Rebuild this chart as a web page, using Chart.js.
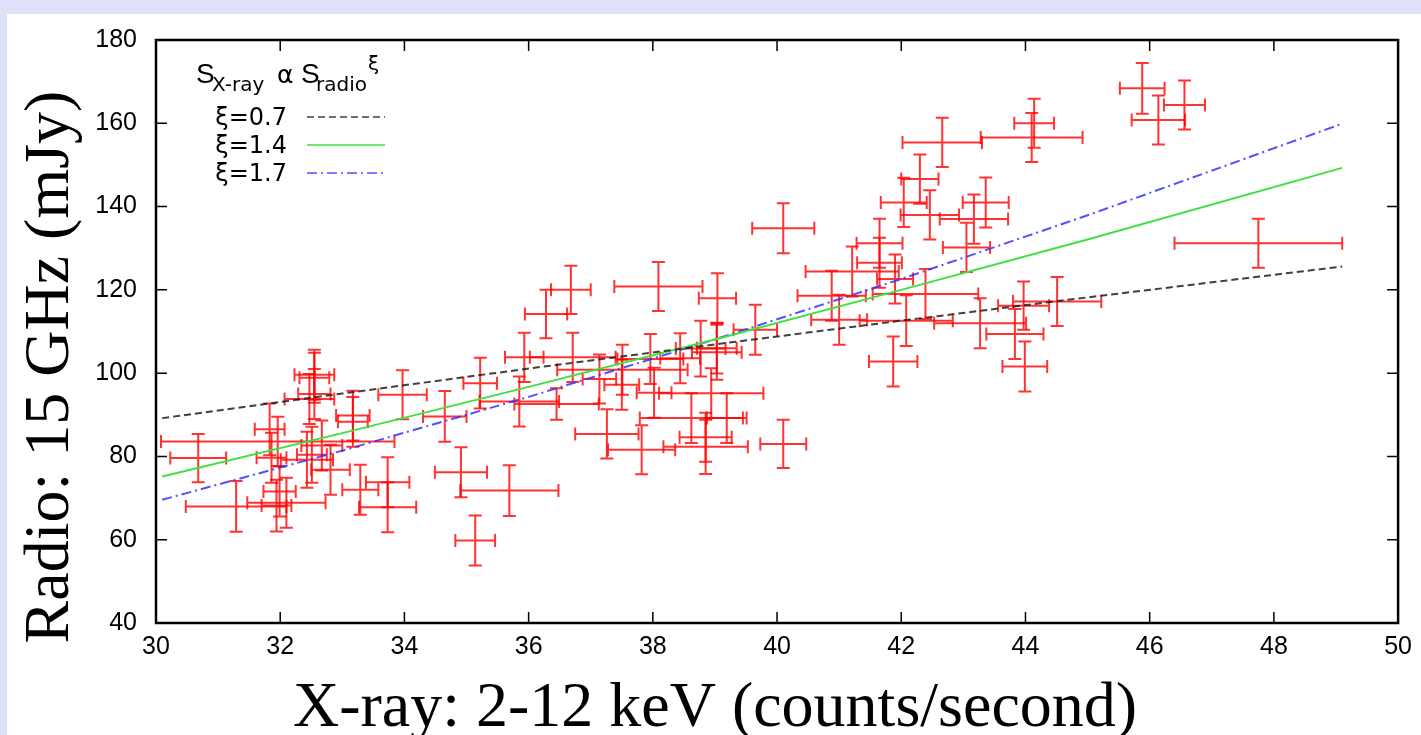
<!DOCTYPE html>
<html lang="en">
<head>
<meta charset="UTF-8">
<title>Radio vs X-ray flux</title>
<script src="https://cdn.jsdelivr.net/npm/chart.js"></script>
<style>
    html, body { margin: 0; padding: 0; background: #dfe0f9; }
    #wrap { width: 1421px; height: 735px; }
</style>
</head>
<body>
<div id="wrap"><canvas id="chart" width="1421" height="735"></canvas></div>
<script>
// observed points (x-ray count rate, 15 GHz flux) with their errors
const obsX = [45.88, 46.56, 46.14, 47.75, 44.14, 44.10, 42.66, 42.30, 42.04, 42.46,
              43.36, 43.17, 43.05, 41.65, 41.65, 41.90, 41.21, 40.88, 41.00, 42.39,
              42.08, 43.27, 43.97, 44.51, 43.83, 43.99, 41.87, 40.10, 40.10, 38.09,
              39.04, 39.65, 36.68, 36.28, 35.93, 36.71, 35.22, 34.91, 35.69, 35.14,
              37.26, 37.82, 34.65, 35.85, 36.45, 37.14, 37.51, 37.50, 37.96, 38.44,
              38.77, 39.03, 39.03, 38.94, 38.02, 38.62, 39.19, 38.85, 38.85,
              30.68, 31.96, 31.29, 31.83, 31.86, 31.99, 32.10, 31.94, 32.55, 32.55,
              32.55, 32.47, 32.67, 32.43, 32.81, 32.51, 33.17, 33.17, 33.97, 33.29,
              33.73, 33.73];
const obsY = [168.4, 164.4, 160.8, 131.2, 160.0, 156.6, 155.4, 146.6, 141.0, 138.0,
              141.0, 137.0, 130.2, 131.2, 126.5, 122.6, 124.4, 118.6, 112.8, 119.0,
              112.6, 112.0, 116.2, 117.2, 109.4, 101.6, 102.8, 134.8, 83.0, 120.8,
              118.0, 110.4, 120.0, 114.2, 103.8, 103.8, 97.6, 76.2, 71.8, 59.8,
              85.4, 81.6, 89.6, 93.2, 92.6, 98.6, 100.8, 97.2, 103.4, 103.6,
              105.9, 106.0, 105.0, 95.2, 95.3, 89.2, 89.2, 84.6, 82.3,
              79.6, 83.6, 68.0, 86.5, 79.7, 71.6, 68.9, 68.2, 99.6, 98.9,
              95.0, 93.8, 82.6, 79.2, 76.8, 80.4, 89.8, 88.3, 94.8, 72.0,
              73.8, 67.8];
const errX = [0.36, 0.33, 0.43, 1.35, 0.32, 0.82, 0.64, 0.30, 0.37, 0.47,
              0.37, 0.55, 0.38, 0.37, 0.36, 0.29, 0.75, 0.55, 0.45, 0.85,
              0.75, 0.74, 0.41, 0.71, 0.46, 0.36, 0.39, 0.50, 0.37, 0.71,
              0.30, 0.35, 0.32, 0.34, 0.31, 0.69, 0.27, 0.42, 0.79, 0.32,
              0.51, 0.54, 0.35, 0.64, 0.68, 0.27, 1.05, 0.28, 0.53, 0.32,
              0.40, 0.32, 0.40, 0.84, 0.28, 0.83, 0.32, 0.42, 0.68,
              0.45, 1.88, 0.81, 0.24, 0.24, 0.26, 0.63, 0.24, 0.32, 0.24,
              0.26, 0.40, 0.33, 0.42, 0.31, 0.24, 0.27, 0.24, 0.39, 0.29,
              0.35, 0.46];
const errY = [6.1, 5.9, 5.9, 5.9, 5.9, 5.9, 5.9, 5.9, 5.9, 5.9,
              6.0, 5.9, 5.9, 5.9, 6.0, 5.9, 6.0, 6.0, 6.0, 6.0,
              6.1, 6.0, 5.8, 5.9, 6.0, 6.0, 6.0, 6.0, 5.8, 5.9,
              6.0, 6.0, 5.8, 5.8, 5.9, 5.9, 6.1, 6.0, 6.1, 6.0,
              5.9, 5.9, 6.1, 6.0, 3.8, 5.9, 6.0, 6.0, 6.0, 6.0,
              6.7, 6.1, 6.6, 6.0, 6.0, 6.0, 6.0, 5.9, 6.5,
              5.8, 5.9, 6.1, 6.2, 6.0, 6.0, 6.0, 6.2, 6.0, 6.0,
              6.0, 6.0, 6.0, 6.7, 6.0, 6.7, 6.0, 6.0, 5.9, 6.0,
              6.0, 6.0];

// power-law curves
const fitX    = [30.1, 33, 36, 39, 42, 45, 49.1];
const fitXi07 = [89.2, 95.1, 101.1, 106.9, 112.6, 118.2, 125.6];
const fitXi14 = [75.2, 85.6, 96.7, 108.1, 120.0, 132.1, 149.3];
const fitXi17 = [69.6, 81.4, 94.3, 108.1, 122.6, 137.9, 159.9];

const xTitle = 'X-ray: 2-12 keV (counts/second)';
const yTitle = 'Radio: 15 GHz (mJy)';

const pts = (xs, ys) => xs.map((v, i) => ({x: v, y: ys[i]}));

// lavender frame behind the white page
const background = {
    id: 'background',
    beforeDraw(chart) {
        const ctx = chart.ctx;
        ctx.save();
        ctx.fillStyle = '#dfe0f9';
        ctx.fillRect(0, 0, chart.width, chart.height);
        ctx.fillStyle = '#ffffff';
        ctx.fillRect(7, 14, chart.width - 7, chart.height - 14);
        ctx.restore();
    }
};

// crosses with end caps for each measurement
const errorBars = {
    id: 'errorBars',
    beforeDatasetsDraw(chart) {
        const {ctx, scales: {x, y}} = chart;
        const cap = 6.5;
        ctx.save();
        ctx.strokeStyle = 'rgba(255,0,0,0.8)';
        ctx.lineWidth = 2;
        obsX.forEach((v, i) => {
            const px = x.getPixelForValue(v), py = y.getPixelForValue(obsY[i]);
            const x0 = x.getPixelForValue(v - errX[i]), x1 = x.getPixelForValue(v + errX[i]);
            const y0 = y.getPixelForValue(obsY[i] - errY[i]), y1 = y.getPixelForValue(obsY[i] + errY[i]);
            ctx.beginPath();
            ctx.moveTo(x0, py); ctx.lineTo(x1, py);
            ctx.moveTo(x0, py - cap); ctx.lineTo(x0, py + cap);
            ctx.moveTo(x1, py - cap); ctx.lineTo(x1, py + cap);
            ctx.moveTo(px, y0); ctx.lineTo(px, y1);
            ctx.moveTo(px - cap, y0); ctx.lineTo(px + cap, y0);
            ctx.moveTo(px - cap, y1); ctx.lineTo(px + cap, y1);
            ctx.stroke();
        });
        ctx.restore();
    }
};

// gnuplot style box, inward ticks on all sides, key and axis titles
const frame = {
    id: 'frame',
    afterDraw(chart) {
        const {ctx, chartArea: a, scales: {x, y}} = chart;
        const tl = 11;
        ctx.save();
        ctx.strokeStyle = '#000';
        ctx.lineWidth = 1.5;
        ctx.beginPath();
        x.ticks.forEach(t => {
            const p = x.getPixelForValue(t.value);
            ctx.moveTo(p, a.bottom); ctx.lineTo(p, a.bottom - tl);
            ctx.moveTo(p, a.top); ctx.lineTo(p, a.top + tl);
        });
        y.ticks.forEach(t => {
            const p = y.getPixelForValue(t.value);
            ctx.moveTo(a.left, p); ctx.lineTo(a.left + tl, p);
            ctx.moveTo(a.right, p); ctx.lineTo(a.right - tl, p);
        });
        ctx.stroke();
        ctx.lineWidth = 2.5;
        ctx.strokeRect(a.left, a.top, a.right - a.left, a.bottom - a.top);

        // key
        ctx.fillStyle = '#000';
        ctx.textBaseline = 'alphabetic';
        ctx.textAlign = 'left';
        ctx.font = '28px "Liberation Sans"';
        ctx.fillText('S', 196, 83);
        ctx.fillText('S', 301, 83);
        ctx.font = '25px "DejaVu Sans"';
        ctx.fillText('\u03b1', 277, 83);
        ctx.font = '20px "DejaVu Sans"';
        ctx.fillText('X-ray', 212, 91);
        ctx.fillText('radio', 316, 91);
        ctx.fillText('\u03be', 368, 70);

        ctx.font = '24px "DejaVu Sans"';
        ctx.textAlign = 'right';
        chart.data.datasets.slice(1).forEach((ds, i) => {
            const base = 125 + i * 28;
            ctx.fillStyle = '#000';
            ctx.fillText(ds.label, 287, base);
            ctx.strokeStyle = ds.borderColor;
            ctx.lineWidth = 1.5;
            ctx.setLineDash(ds.borderDash || []);
            ctx.beginPath();
            ctx.moveTo(307, base - 8);
            ctx.lineTo(385, base - 8);
            ctx.stroke();
            ctx.setLineDash([]);
        });

        // axis titles
        ctx.fillStyle = '#000';
        ctx.font = '64px "Liberation Serif"';
        ctx.textAlign = 'center';
        ctx.fillText(xTitle, 715, 726);
        ctx.translate(68, 367);
        ctx.rotate(-Math.PI / 2);
        ctx.fillText(yTitle, 0, 0);
        ctx.restore();
    }
};

const tickFont = {family: 'Liberation Sans', size: 25};

new Chart(document.getElementById('chart'), {
    type: 'scatter',
    data: {
        datasets: [{
            label: 'data',
            data: pts(obsX, obsY),
            pointRadius: 0,
            showLine: false
        }, {
            label: '\u03be=0.7',
            data: pts(fitX, fitXi07),
            showLine: true,
            pointRadius: 0,
            borderColor: 'rgba(30,30,30,0.85)',
            borderWidth: 2,
            borderDash: [7, 4]
        }, {
            label: '\u03be=1.4',
            data: pts(fitX, fitXi14),
            showLine: true,
            pointRadius: 0,
            borderColor: '#40e040',
            borderWidth: 2
        }, {
            label: '\u03be=1.7',
            data: pts(fitX, fitXi17),
            showLine: true,
            pointRadius: 0,
            borderColor: 'rgba(50,50,255,0.85)',
            borderWidth: 2,
            borderDash: [10, 4, 2, 4]
        }]
    },
    options: {
        responsive: false,
        animation: false,
        devicePixelRatio: 1,
        layout: { padding: { top: 40, right: 21, left: 0, bottom: 0 } },
        plugins: {
            legend: { display: false },
            tooltip: { enabled: false }
        },
        scales: {
            x: {
                type: 'linear',
                min: 30,
                max: 50,
                ticks: { stepSize: 2, font: tickFont, color: '#000', padding: 9, maxRotation: 0 },
                grid: { display: false, drawTicks: false },
                border: { display: false },
                afterFit(s) { s.height = 112; }
            },
            y: {
                min: 40,
                max: 180,
                ticks: { stepSize: 20, font: tickFont, color: '#000', padding: 19 },
                grid: { display: false, drawTicks: false },
                border: { display: false },
                afterFit(s) { s.width = 156; }
            }
        }
    },
    plugins: [background, errorBars, frame]
});
</script>
</body>
</html>
